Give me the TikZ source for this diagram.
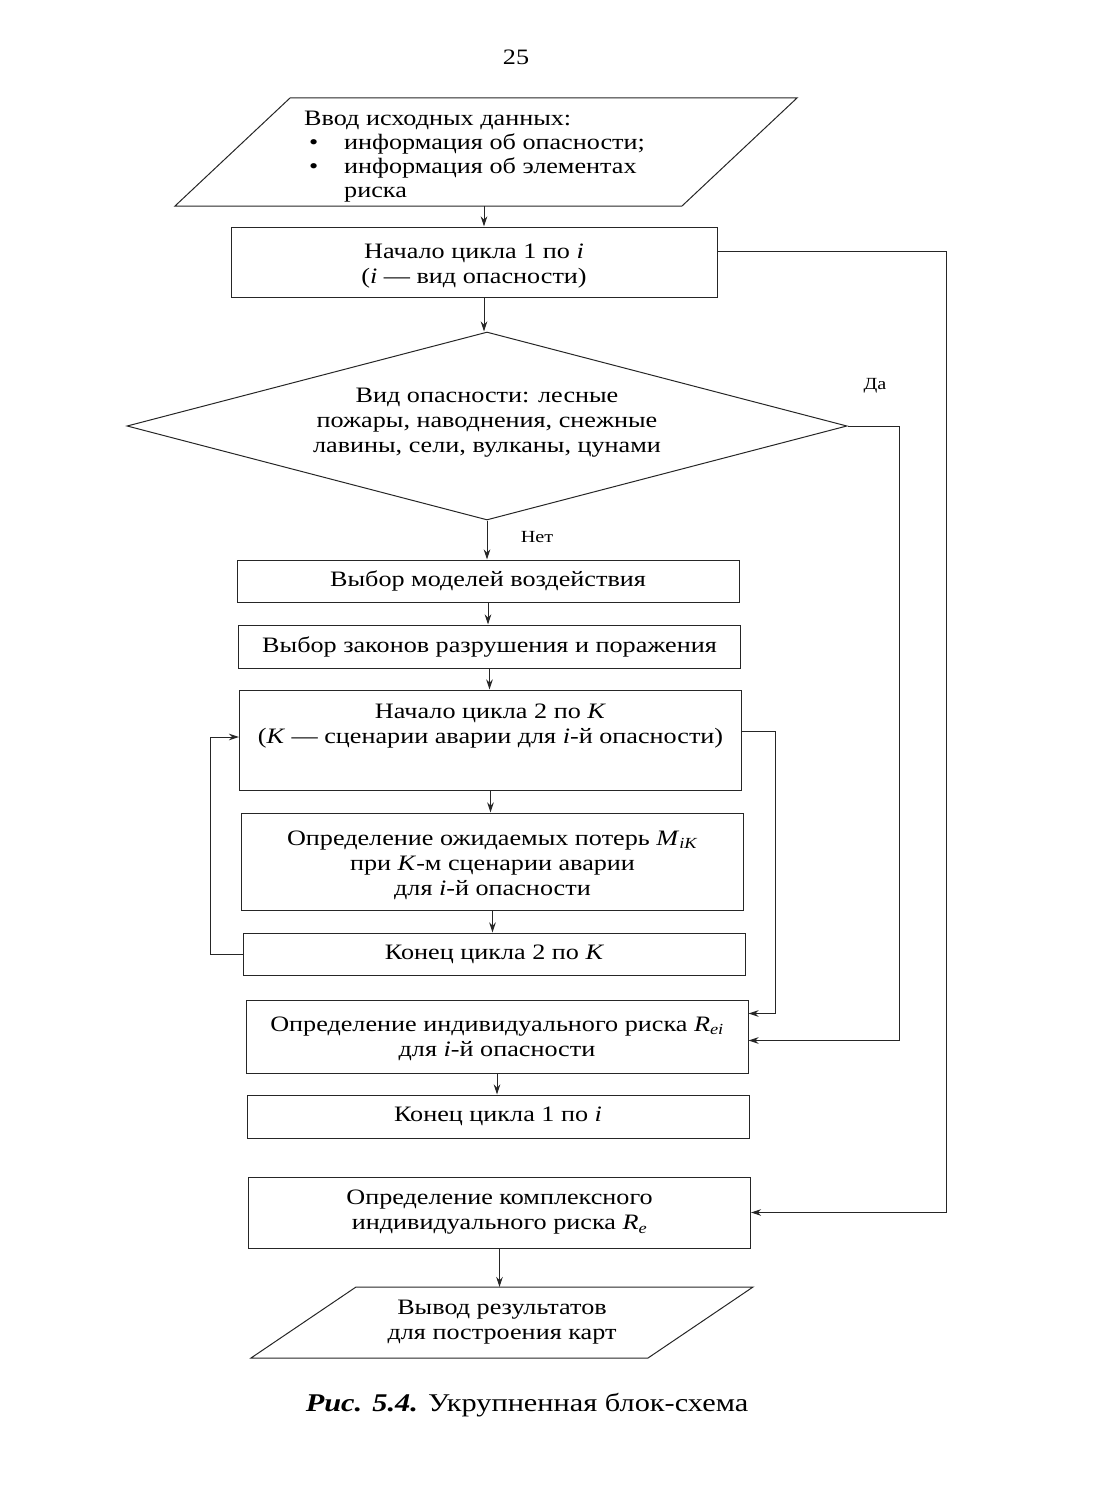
\documentclass[tikz,border=0pt]{standalone}
\usepackage{fontspec}
\setmainfont{Liberation Serif}[FakeStretch=1.19]
\usetikzlibrary{arrows.meta,shapes.geometric,calc}
\newcommand{\shiftbox}[2]{\raisebox{#1}[\height][\depth]{#2}}
\begin{document}
\begin{tikzpicture}[x=1pt,y=-1pt,
  every node/.style={font=\fontsize{22}{25}\selectfont, inner sep=0pt},
  box/.style={draw=black!85, line width=1pt, minimum width=502pt, align=center},
  line/.style={line width=1pt, draw=black!85},
  arr/.style={line width=1pt, draw=black!85, -{Stealth[length=10pt,width=6.5pt]}},
  lbl/.style={font=\fontsize{17}{21}\selectfont}
]
\useasboundingbox (0,0) rectangle (1118,1501);

\node (pg) at (516,57) {25};

% input parallelogram
\coordinate (inTL) at (290,98);
\coordinate (inTR) at (797,98);
\coordinate (inBR) at (682,206);
\coordinate (inBL) at (175,206);
\draw[line] (inTL) -- (inTR) -- (inBR) -- (inBL) -- cycle;
\node[anchor=north west, align=left] (inp) at (304,108)
  {\begin{tabular}{@{}l@{}l@{}}
   \multicolumn{2}{@{}l@{}}{Ввод исходных данных:}\\[-1pt]
   \makebox[40pt][l]{\hspace{5pt}•}&информация об опасности;\\[-1pt]
   \makebox[40pt][l]{\hspace{5pt}•}&информация об элементах\\[-1pt]
   &риска
   \end{tabular}};
\coordinate (inOut) at (484,206);

\node[box, minimum width=486pt, minimum height=70pt] (c1s) at (474,262)
  {\shiftbox{-4pt}{\begin{tabular}{@{}c@{}}Начало цикла 1 по \textit{i}\\(\textit{i} — вид опасности)\end{tabular}}};

\node[draw=black!85, line width=1pt, diamond, aspect=3.83, minimum width=720pt, minimum height=188pt, align=center] (dec) at (487,426)
  {\shiftbox{4pt}{\begin{tabular}{@{}c@{}}Вид опасности: лесные\\пожары, наводнения, снежные\\лавины, сели, вулканы, цунами\end{tabular}}};

\node[box, minimum height=42pt] (m1) at (488,581) {Выбор моделей воздействия};
\node[box, minimum height=43pt] (m2) at (489.5,646.5) {Выбор законов разрушения и поражения};
\node[box, minimum height=100pt] (c2s) at (490.5,740)
  {Начало цикла 2 по \textit{K}\\(\textit{K} — сценарии аварии для \textit{i}-й опасности)\\ \strut};
\node[box, minimum height=97pt] (loss) at (492.5,861.5)
  {\shiftbox{-4pt}{\begin{tabular}{@{}c@{}}Определение ожидаемых потерь \textit{M}\textsubscript{\textit{iK}}\\при \textit{K}-м сценарии аварии\\для \textit{i}-й опасности\end{tabular}}};
\node[box, minimum height=42pt] (c2e) at (494.5,954) {Конец цикла 2 по \textit{K}};
\node[box, minimum height=73pt] (rei) at (497,1036.5)
  {\shiftbox{-2pt}{\begin{tabular}{@{}c@{}}Определение индивидуального риска \textit{R}\textsubscript{\textit{ei}}\\для \textit{i}-й опасности\end{tabular}}};
\node[box, minimum height=43pt] (c1e) at (498,1116.5) {Конец цикла 1 по \textit{i}};
\node[box, minimum height=71pt] (re) at (499.5,1212.5)
  {Определение комплексного\\индивидуального риска \textit{R}\textsubscript{\textit{e}}};

% output parallelogram
\coordinate (outTL) at (356,1287);
\coordinate (outTR) at (753,1287);
\coordinate (outBR) at (648,1358);
\coordinate (outBL) at (251,1358);
\draw[line] (outTL) -- (outTR) -- (outBR) -- (outBL) -- cycle;
\node[align=center] (outp) at (502,1322) {Вывод результатов\\для построения карт};
\coordinate (outIn) at (501,1287);

\node (cap) at (527,1405) {\fontsize{25.5}{29}\selectfont\textbf{\textit{Рис. 5.4.}} Укрупненная блок-схема};

% labels
\node[lbl] (da) at (875,386) {Да};
\node[lbl] (net) at (537,537) {Нет};

% vertical connectors
\draw[arr] (inOut) -- (inOut |- c1s.north);
\draw[arr] ([xshift=10pt]c1s.south) -- ([xshift=10pt]c1s.south |- dec.north);
\draw[arr] (dec.south) -- (dec.south |- m1.north);
\draw[arr] (m1.south) -- (m1.south |- m2.north);
\draw[arr] (m2.south) -- (m2.south |- c2s.north);
\draw[arr] (c2s.south) -- (c2s.south |- loss.north);
\draw[arr] (loss.south) -- (loss.south |- c2e.north);
\draw[arr] (rei.south) -- (rei.south |- c1e.north);
\draw[arr] (re.south) -- (re.south |- outIn);

% loops
\draw[arr] ([yshift=11pt]c1s.east) -- ++(229,0) |- (re.east);
\draw[arr] (dec.east) -- ++(52,0) |- ([yshift=-4pt]rei.east);
\draw[arr] ([yshift=9pt]c2s.east) -- ++(33,0) |- ([yshift=23pt]rei.east);
\draw[arr] (c2e.west) -- ++(-33,0) |- ([yshift=3pt]c2s.west);
\end{tikzpicture}
\end{document}
